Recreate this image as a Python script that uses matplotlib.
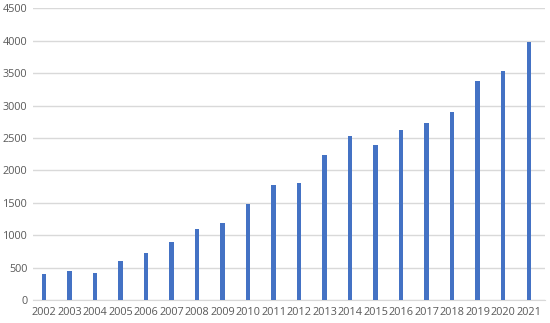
import matplotlib
matplotlib.use("Agg")
import matplotlib.pyplot as plt
import numpy as np

years = [str(y) for y in range(2002, 2022)]
counts = [400, 455, 420, 600, 730, 890, 1095, 1190, 1475, 1770,
          1810, 2240, 2525, 2390, 2630, 2730, 2900, 3375, 3535, 3985]
yticks = [0, 500, 1000, 1500, 2000, 2500, 3000, 3500, 4000, 4500]

plt.rcParams['font.family'] = ['Open Sans', 'DejaVu Sans']

fig = plt.figure(figsize=(5.5, 3.23), dpi=100)
ax = fig.add_axes([33/550, 1-300/323, 512/550, (300-8.3)/323])

x = np.arange(len(years))
ax.bar(x, counts, width=0.17, color='#4472C4', zorder=3)

ax.set_xlim(-0.43, len(years)-1+0.64)
ax.set_ylim(0, 4500)
ax.set_yticks(yticks)
ax.set_xticks(x)
ax.set_xticklabels(years)
ax.grid(axis='y', color='#D9D9D9', linewidth=1, zorder=0)
for s in ['top', 'right', 'left']:
    ax.spines[s].set_visible(False)
ax.spines['bottom'].set_color('#D9D9D9')
ax.tick_params(length=0, labelsize=7.8, colors='#595959')
ax.tick_params(axis='y', pad=4)
ax.tick_params(axis='x', pad=5)

fig.savefig('out.png', dpi=100)
